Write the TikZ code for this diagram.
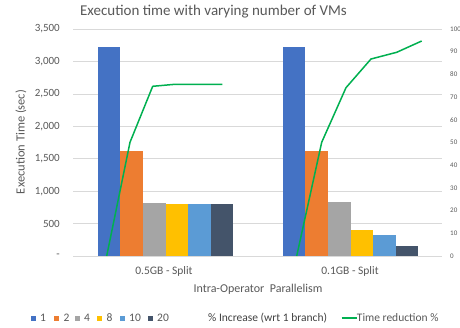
\documentclass[tikz,border=0pt]{standalone}
\usepackage{fontspec}
\setmainfont{Carlito}
\definecolor{txt}{HTML}{595959}
\definecolor{txtd}{HTML}{404040}
\definecolor{gridc}{HTML}{D9D9D9}
\definecolor{cA}{HTML}{4472C4}
\definecolor{cB}{HTML}{ED7D31}
\definecolor{cC}{HTML}{A5A5A5}
\definecolor{cD}{HTML}{FFC000}
\definecolor{cE}{HTML}{5B9BD5}
\definecolor{cF}{HTML}{44546A}
\definecolor{lineg}{HTML}{00B050}
\begin{document}
\begin{tikzpicture}[x=1pt,y=-1pt,
  grid/.style={draw=gridc,line width=0.6pt},
  lbl/.style={text=txt,inner sep=0pt,font=\fontsize{11}{12}\selectfont},
  leg/.style={text=txt,inner sep=0pt,anchor=west,font=\fontsize{11.5}{13}\selectfont},
  rlbl/.style={text=txt,inner sep=0pt,anchor=west,font=\fontsize{7}{8}\selectfont},
  trend/.style={draw=lineg,line width=1.5pt,line join=round}]
\useasboundingbox (0,0) rectangle (460,328);
\fill[white] (0,0) rectangle (460,328);
% grid
\foreach \k in {1,...,7} \draw[grid] (73,{256-\k*32.43}) -- (442,{256-\k*32.43});
\draw[grid] (73,256) -- (442,256);
% left tick labels
\node[lbl,anchor=east] (t0) at (60,256) {-};
\foreach \k/\t in {1/500,2/{1,000},3/{1,500},4/{2,000},5/{2,500},6/{3,000},7/{3,500}}
  \node[lbl,anchor=east] (tl\k) at (60,{256-\k*32.43}) {\t};
% right tick labels
\foreach \k in {0,...,10}
  \node[rlbl] (tr\k) at (450,{256-\k*22.7}) {\the\numexpr\k*10\relax};
% bars
\foreach \x/\v/\c in {97.7/3230/cA,120.3/1615/cB,142.9/820/cC,165.5/800/cD,188.1/800/cE,210.7/800/cF,
                      282.7/3230/cA,305.3/1615/cB,327.9/835/cC,350.5/405/cD,373.1/320/cE,395.7/155/cF}
  \fill[\c] (\x,256) rectangle ++(22.6,{-\v*0.064857});
% trend lines
\draw[trend] (106.7,256) -- (130,142.3) -- (152.7,86.3) -- (175,84.3) -- (198.5,84.3) -- (222.3,84.3);
\draw[trend] (296.7,256) -- (321.7,142.3) -- (346,87.7) -- (371,59) -- (396.7,52.3) -- (421.7,41);
% titles
\node[text=txt,inner sep=0pt,font=\fontsize{15}{17}\selectfont] (title) at (213.5,12) {Execution time with varying number of VMs};
\node[lbl,rotate=90,font=\fontsize{12.5}{14}\selectfont] (ytitle) at (21,142) {Execution Time (sec)};
\node[lbl,font=\fontsize{11.5}{13}\selectfont] (cat1) at (164,271) {0.5GB - Split};
\node[lbl,font=\fontsize{11.5}{13}\selectfont] (cat2) at (350,271) {0.1GB - Split};
\node[lbl,font=\fontsize{12}{14}\selectfont] (xtitle) at (258,289) {Intra-Operator\ \ Parallelism};
% legend
\foreach \x/\c/\t in {31/cA/1,54.3/cB/2,75/cC/4,97.3/cD/8,120/cE/10,148/cF/20}{
  \fill[\c] (\x,315.5) rectangle ++(5,5);
  \node[leg] (lg\t) at (\x+9,318) {\t};
}
\node[leg,text=txtd] (lgpct) at (208,318) {\% Increase (wrt 1 branch)};
\coordinate (lgA) at (341.7,318);
\coordinate (lgB) at (356.7,318);
\draw[trend] (lgA) -- (lgB);
\node[leg] (lgtr) at (lgB) {Time reduction \%};
\end{tikzpicture}
\end{document}
